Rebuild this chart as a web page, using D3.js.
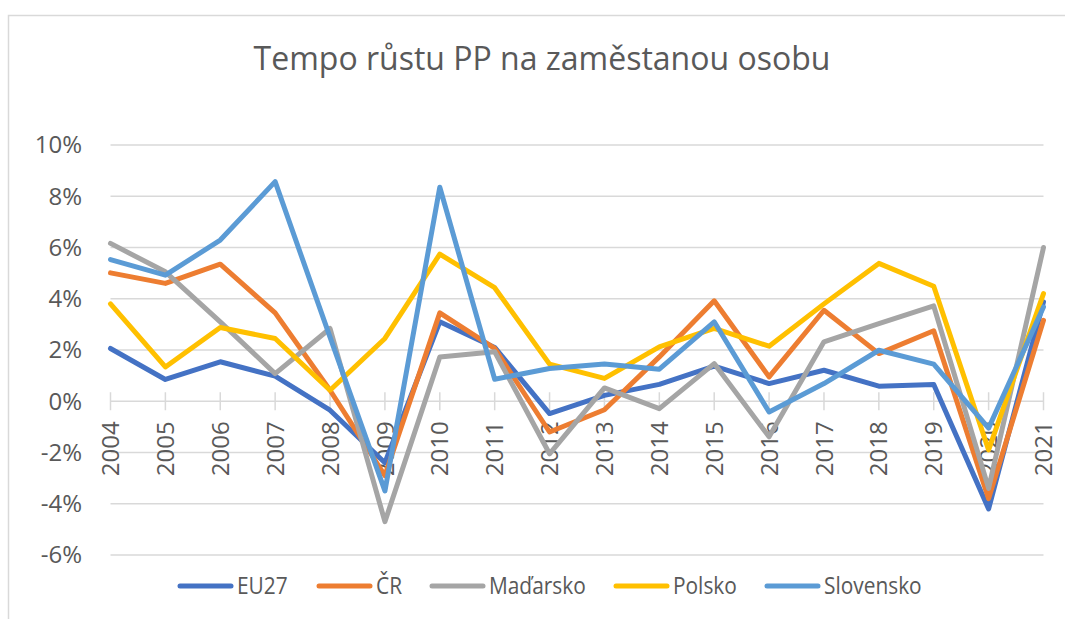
<!DOCTYPE html>
<html>
<head>
<meta charset="utf-8">
<script src="https://cdn.jsdelivr.net/npm/d3@7"></script>
<style>
  body { margin: 0; background: #fff; }
  .tick-label { font-family: 'Open Sans', sans-serif; font-size: 24px; fill: #595959; }
  .heading { font-family: 'Open Sans', sans-serif; font-size: 32px; fill: #595959; }
  .legend-label { font-family: 'Open Sans', sans-serif; font-size: 24px; fill: #595959; }
</style>
</head>
<body>
<svg id="chart" width="1065" height="619"></svg>
<script>
const years = ['2004','2005','2006','2007','2008','2009','2010','2011','2012','2013','2014','2015','2016','2017','2018','2019','2020','2021'];
const yTicks = [-6, -4, -2, 0, 2, 4, 6, 8, 10];

const eu27      = [2.06, 0.85, 1.54, 0.98, -0.35, -2.4, 3.1, 2.1, -0.48, 0.23, 0.66, 1.37, 0.69, 1.21, 0.59, 0.65, -4.2, 3.88];
const cr        = [5.01, 4.6, 5.35, 3.45, 0.43, -2.9, 3.45, 2.06, -1.2, -0.33, 1.73, 3.92, 0.95, 3.55, 1.86, 2.75, -3.8, 3.16];
const madarsko  = [6.16, 5.05, 3.1, 1.08, 2.84, -4.7, 1.73, 1.93, -2.05, 0.52, -0.29, 1.47, -1.39, 2.32, 3.03, 3.72, -3.4, 6.0];
const polsko    = [3.8, 1.34, 2.88, 2.45, 0.43, 2.45, 5.74, 4.43, 1.45, 0.89, 2.12, 2.84, 2.15, 3.8, 5.38, 4.49, -1.9, 4.2];
const slovensko = [5.53, 4.92, 6.29, 8.57, 2.5, -3.5, 8.35, 0.86, 1.28, 1.45, 1.25, 3.1, -0.42, 0.69, 1.99, 1.45, -1.05, 3.68];

const seriesNames  = ['EU27', 'ČR', 'Maďarsko', 'Polsko', 'Slovensko'];
const seriesValues = [eu27, cr, madarsko, polsko, slovensko];
const colors = ['#4472C4', '#ED7D31', '#A5A5A5', '#FFC000', '#5B9BD5'];

const svg = d3.select('#chart');

// chart border (only left and top edges are visible)
svg.append('path')
    .attr('d', 'M8.5,619 L8.5,15.5 L1065,15.5')
    .attr('fill', 'none')
    .attr('stroke', '#d9d9d9')
    .attr('stroke-width', 1.5);

const xscale = d3.scalePoint()
    .domain(years)
    .range([110.5, 1043.5]);

const yscale = d3.scaleLinear()
    .domain([-6, 10])
    .range([555, 145]);

// gridlines
svg.append('g').selectAll('line').data(yTicks)
    .enter().append('line')
        .attr('x1', xscale.range()[0])
        .attr('x2', xscale.range()[1])
        .attr('y1', d => yscale(d))
        .attr('y2', d => yscale(d))
        .attr('stroke', '#d9d9d9')
        .attr('stroke-width', 1.5);

// y labels
svg.append('g').selectAll('text').data(yTicks)
    .enter().append('text')
        .attr('class', 'tick-label')
        .attr('x', 82)
        .attr('y', d => yscale(d))
        .attr('dy', '0.35em')
        .attr('text-anchor', 'end')
        .text(d => d + '%');

// x tick marks (cross the axis)
const y0 = yscale(0);
svg.append('g').selectAll('line').data(years)
    .enter().append('line')
        .attr('x1', d => xscale(d))
        .attr('x2', d => xscale(d))
        .attr('y1', y0 - 9)
        .attr('y2', y0 + 9)
        .attr('stroke', '#d9d9d9')
        .attr('stroke-width', 1.5);

// x labels, rotated
svg.append('g').selectAll('text').data(years)
    .enter().append('text')
        .attr('class', 'tick-label')
        .attr('transform', d => `translate(${xscale(d)},${y0 + 20}) rotate(-90)`)
        .attr('dy', '0.36em')
        .attr('text-anchor', 'end')
        .text(d => d);

// lines
const line = d3.line()
    .x((d, i) => xscale(years[i]))
    .y(d => yscale(d));

svg.append('g').selectAll('path').data(seriesValues)
    .enter().append('path')
        .attr('d', d => line(d))
        .attr('fill', 'none')
        .attr('stroke', (d, i) => colors[i])
        .attr('stroke-width', 5)
        .attr('stroke-linejoin', 'round')
        .attr('stroke-linecap', 'round');

// title
svg.append('text')
    .attr('class', 'heading')
    .attr('x', 542)
    .attr('y', 70)
    .attr('text-anchor', 'middle')
    .text('Tempo růstu PP na zaměstanou osobu');

// legend
const legendX = [178, 317, 430, 614, 765];
const legend = svg.append('g').selectAll('g').data(seriesNames)
    .enter().append('g')
        .attr('transform', (d, i) => `translate(${legendX[i]},586)`);

legend.append('line')
    .attr('x1', 2).attr('x2', 53)
    .attr('y1', 0).attr('y2', 0)
    .attr('stroke', (d, i) => colors[i])
    .attr('stroke-width', 5)
    .attr('stroke-linecap', 'round');

// condensed look of the original legend font
legend.append('text')
    .attr('class', 'legend-label')
    .attr('transform', 'translate(59,0) scale(0.87,1)')
    .attr('dy', '0.35em')
    .text(d => d);
</script>
</body>
</html>
